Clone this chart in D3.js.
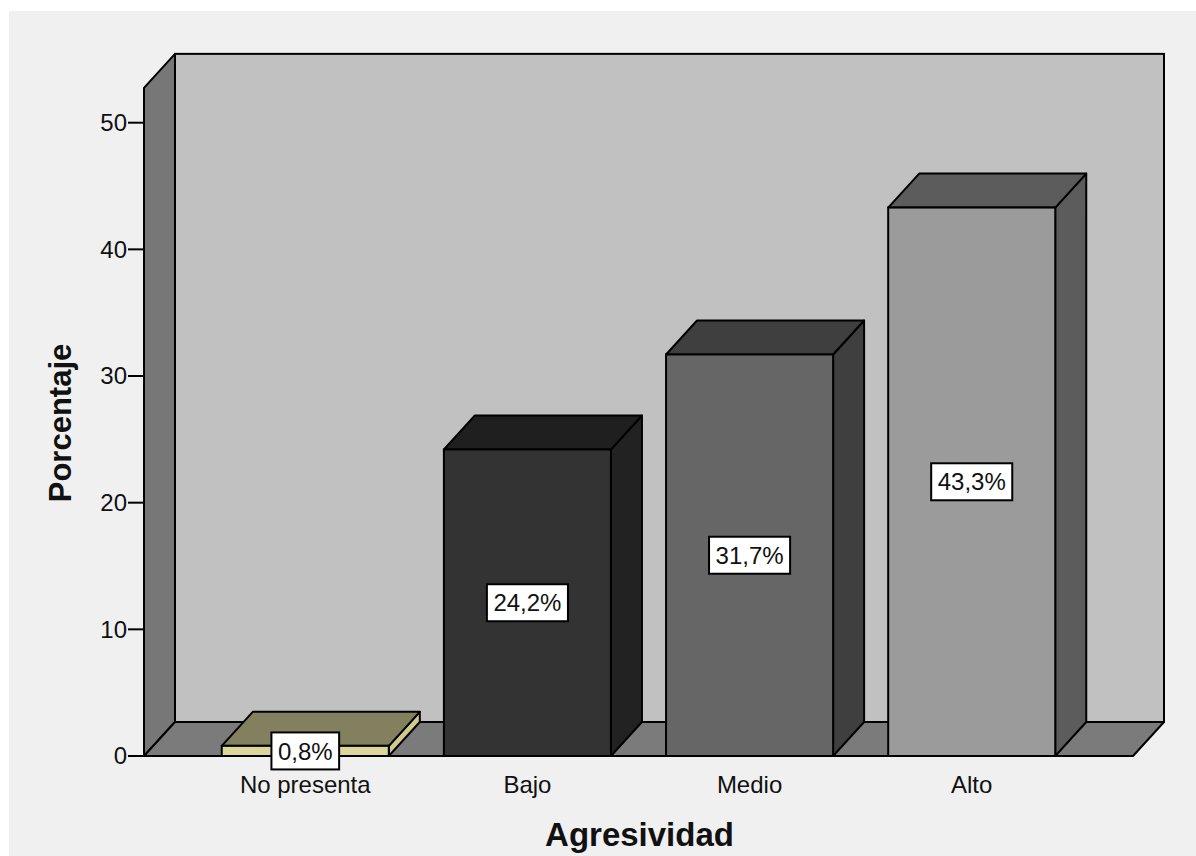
<!DOCTYPE html>
<html>
<head>
<meta charset="utf-8">
<script src="https://cdn.jsdelivr.net/npm/d3@7"></script>
<style>
  html, body { margin: 0; padding: 0; background: #ffffff; }
  svg { display: block; }
</style>
</head>
<body>
<figure id="bar" style="margin:0"></figure>
<script>
// data
const categories = ["No presenta", "Bajo", "Medio", "Alto"];
const percentages = [0.8, 24.2, 31.7, 43.3];
const valueLabels = ["0,8%", "24,2%", "31,7%", "43,3%"];
const yTicks = [0, 10, 20, 30, 40, 50];
const axisMax = 52.75;

const frontColors = ["#dad69c", "#333333", "#666666", "#9b9b9b"];
const topColors = ["#82805e", "#1f1f1f", "#3f3f3f", "#5c5c5c"];
const sideColors = ["#d0cc8e", "#222222", "#3f3f3f", "#5c5c5c"];

const width = 1196;
const height = 856;
const depthX = 31;
const depthY = -34;
const font = "'Liberation Sans', Arial, sans-serif";

const svg = d3.select("figure#bar")
  .append("svg")
  .attr("width", width)
  .attr("height", height);

// page background
svg.append("rect")
  .attr("x", 9).attr("y", 11)
  .attr("width", width - 9).attr("height", height - 11)
  .attr("fill", "#f0f0f0");

const x = d3.scaleBand()
  .domain(categories)
  .range([144, 1133])
  .paddingInner(0.248)
  .paddingOuter(0.35);

const y = d3.scaleLinear()
  .domain([0, 50])
  .range([756, 122.7]);

const x0 = x.range()[0], x1 = x.range()[1];
const yBase = y(0), yTop = y(axisMax);

const poly = pts => pts.map(p => p.join(",")).join(" ");

// back wall
svg.append("rect")
  .attr("x", x0 + depthX).attr("y", yTop + depthY)
  .attr("width", x1 - x0).attr("height", yBase - yTop)
  .attr("fill", "#c1c1c1")
  .attr("stroke", "#000").attr("stroke-width", 2);

// left wall
svg.append("polygon")
  .attr("points", poly([[x0, yBase], [x0, yTop], [x0 + depthX, yTop + depthY], [x0 + depthX, yBase + depthY]]))
  .attr("fill", "#777777")
  .attr("stroke", "#000").attr("stroke-width", 2).attr("stroke-linejoin", "round");

// floor
svg.append("polygon")
  .attr("points", poly([[x0, yBase], [x0 + depthX, yBase + depthY], [x1 + depthX, yBase + depthY], [x1, yBase]]))
  .attr("fill", "#7b7b7b")
  .attr("stroke", "#000").attr("stroke-width", 2).attr("stroke-linejoin", "round");

// bars
const bars = svg.selectAll("g.bar")
  .data(categories.map((c, i) => ({ name: c, value: percentages[i], i: i })))
  .enter()
  .append("g")
  .attr("class", "bar");

bars.append("polygon")
  .attr("points", d => {
    const l = x(d.name), r = l + x.bandwidth(), t = y(d.value);
    return poly([[r, yBase], [r, t], [r + depthX, t + depthY], [r + depthX, yBase + depthY]]);
  })
  .attr("fill", d => sideColors[d.i])
  .attr("stroke", "#000").attr("stroke-width", 2).attr("stroke-linejoin", "round");

bars.append("polygon")
  .attr("points", d => {
    const l = x(d.name), r = l + x.bandwidth(), t = y(d.value);
    return poly([[l, t], [l + depthX, t + depthY], [r + depthX, t + depthY], [r, t]]);
  })
  .attr("fill", d => topColors[d.i])
  .attr("stroke", "#000").attr("stroke-width", 2).attr("stroke-linejoin", "round");

bars.append("rect")
  .attr("x", d => x(d.name))
  .attr("y", d => y(d.value))
  .attr("width", x.bandwidth())
  .attr("height", d => yBase - y(d.value))
  .attr("fill", d => frontColors[d.i])
  .attr("stroke", "#000").attr("stroke-width", 2);

// y axis ticks
const yAxis = svg.append("g");
yAxis.selectAll("line")
  .data(yTicks)
  .enter()
  .append("line")
  .attr("x1", x0 - 16).attr("x2", x0)
  .attr("y1", d => y(d)).attr("y2", d => y(d))
  .attr("stroke", "#000").attr("stroke-width", 2);

yAxis.selectAll("text")
  .data(yTicks)
  .enter()
  .append("text")
  .attr("x", x0 - 17)
  .attr("y", d => y(d))
  .attr("dy", "0.35em")
  .attr("text-anchor", "end")
  .style("font-family", font)
  .style("font-size", "24px")
  .attr("fill", "#111")
  .text(d => d);

// category labels
svg.selectAll("text.cat")
  .data(categories)
  .enter()
  .append("text")
  .attr("class", "cat")
  .attr("x", d => x(d) + x.bandwidth() / 2)
  .attr("y", 793)
  .attr("text-anchor", "middle")
  .style("font-family", font)
  .style("font-size", "24px")
  .attr("fill", "#111")
  .text(d => d);

// value labels
const labels = svg.selectAll("g.vlabel")
  .data(categories.map((c, i) => ({ name: c, value: percentages[i], label: valueLabels[i] })))
  .enter()
  .append("g")
  .attr("class", "vlabel")
  .attr("transform", d => "translate(" + (x(d.name) + x.bandwidth() / 2) + "," + ((y(d.value) + yBase) / 2) + ")");

labels.append("text")
  .attr("text-anchor", "middle")
  .attr("dy", "0.36em")
  .style("font-family", font)
  .style("font-size", "24px")
  .attr("fill", "#111")
  .text(d => d.label);

labels.each(function () {
  const g = d3.select(this);
  const bb = g.select("text").node().getBBox();
  g.insert("rect", "text")
    .attr("x", bb.x - 6.5)
    .attr("y", -18.5)
    .attr("width", bb.width + 13)
    .attr("height", 37)
    .attr("fill", "#fff")
    .attr("stroke", "#000")
    .attr("stroke-width", 2);
});

// axis titles
svg.append("text")
  .attr("transform", "translate(71,423) rotate(-90)")
  .attr("text-anchor", "middle")
  .style("font-family", font)
  .style("font-size", "31px")
  .style("font-weight", "bold")
  .attr("fill", "#111")
  .text("Porcentaje");

svg.append("text")
  .attr("x", 639.5)
  .attr("y", 846)
  .attr("text-anchor", "middle")
  .style("font-family", font)
  .style("font-size", "33px")
  .style("font-weight", "bold")
  .attr("fill", "#111")
  .text("Agresividad");
</script>
</body>
</html>
